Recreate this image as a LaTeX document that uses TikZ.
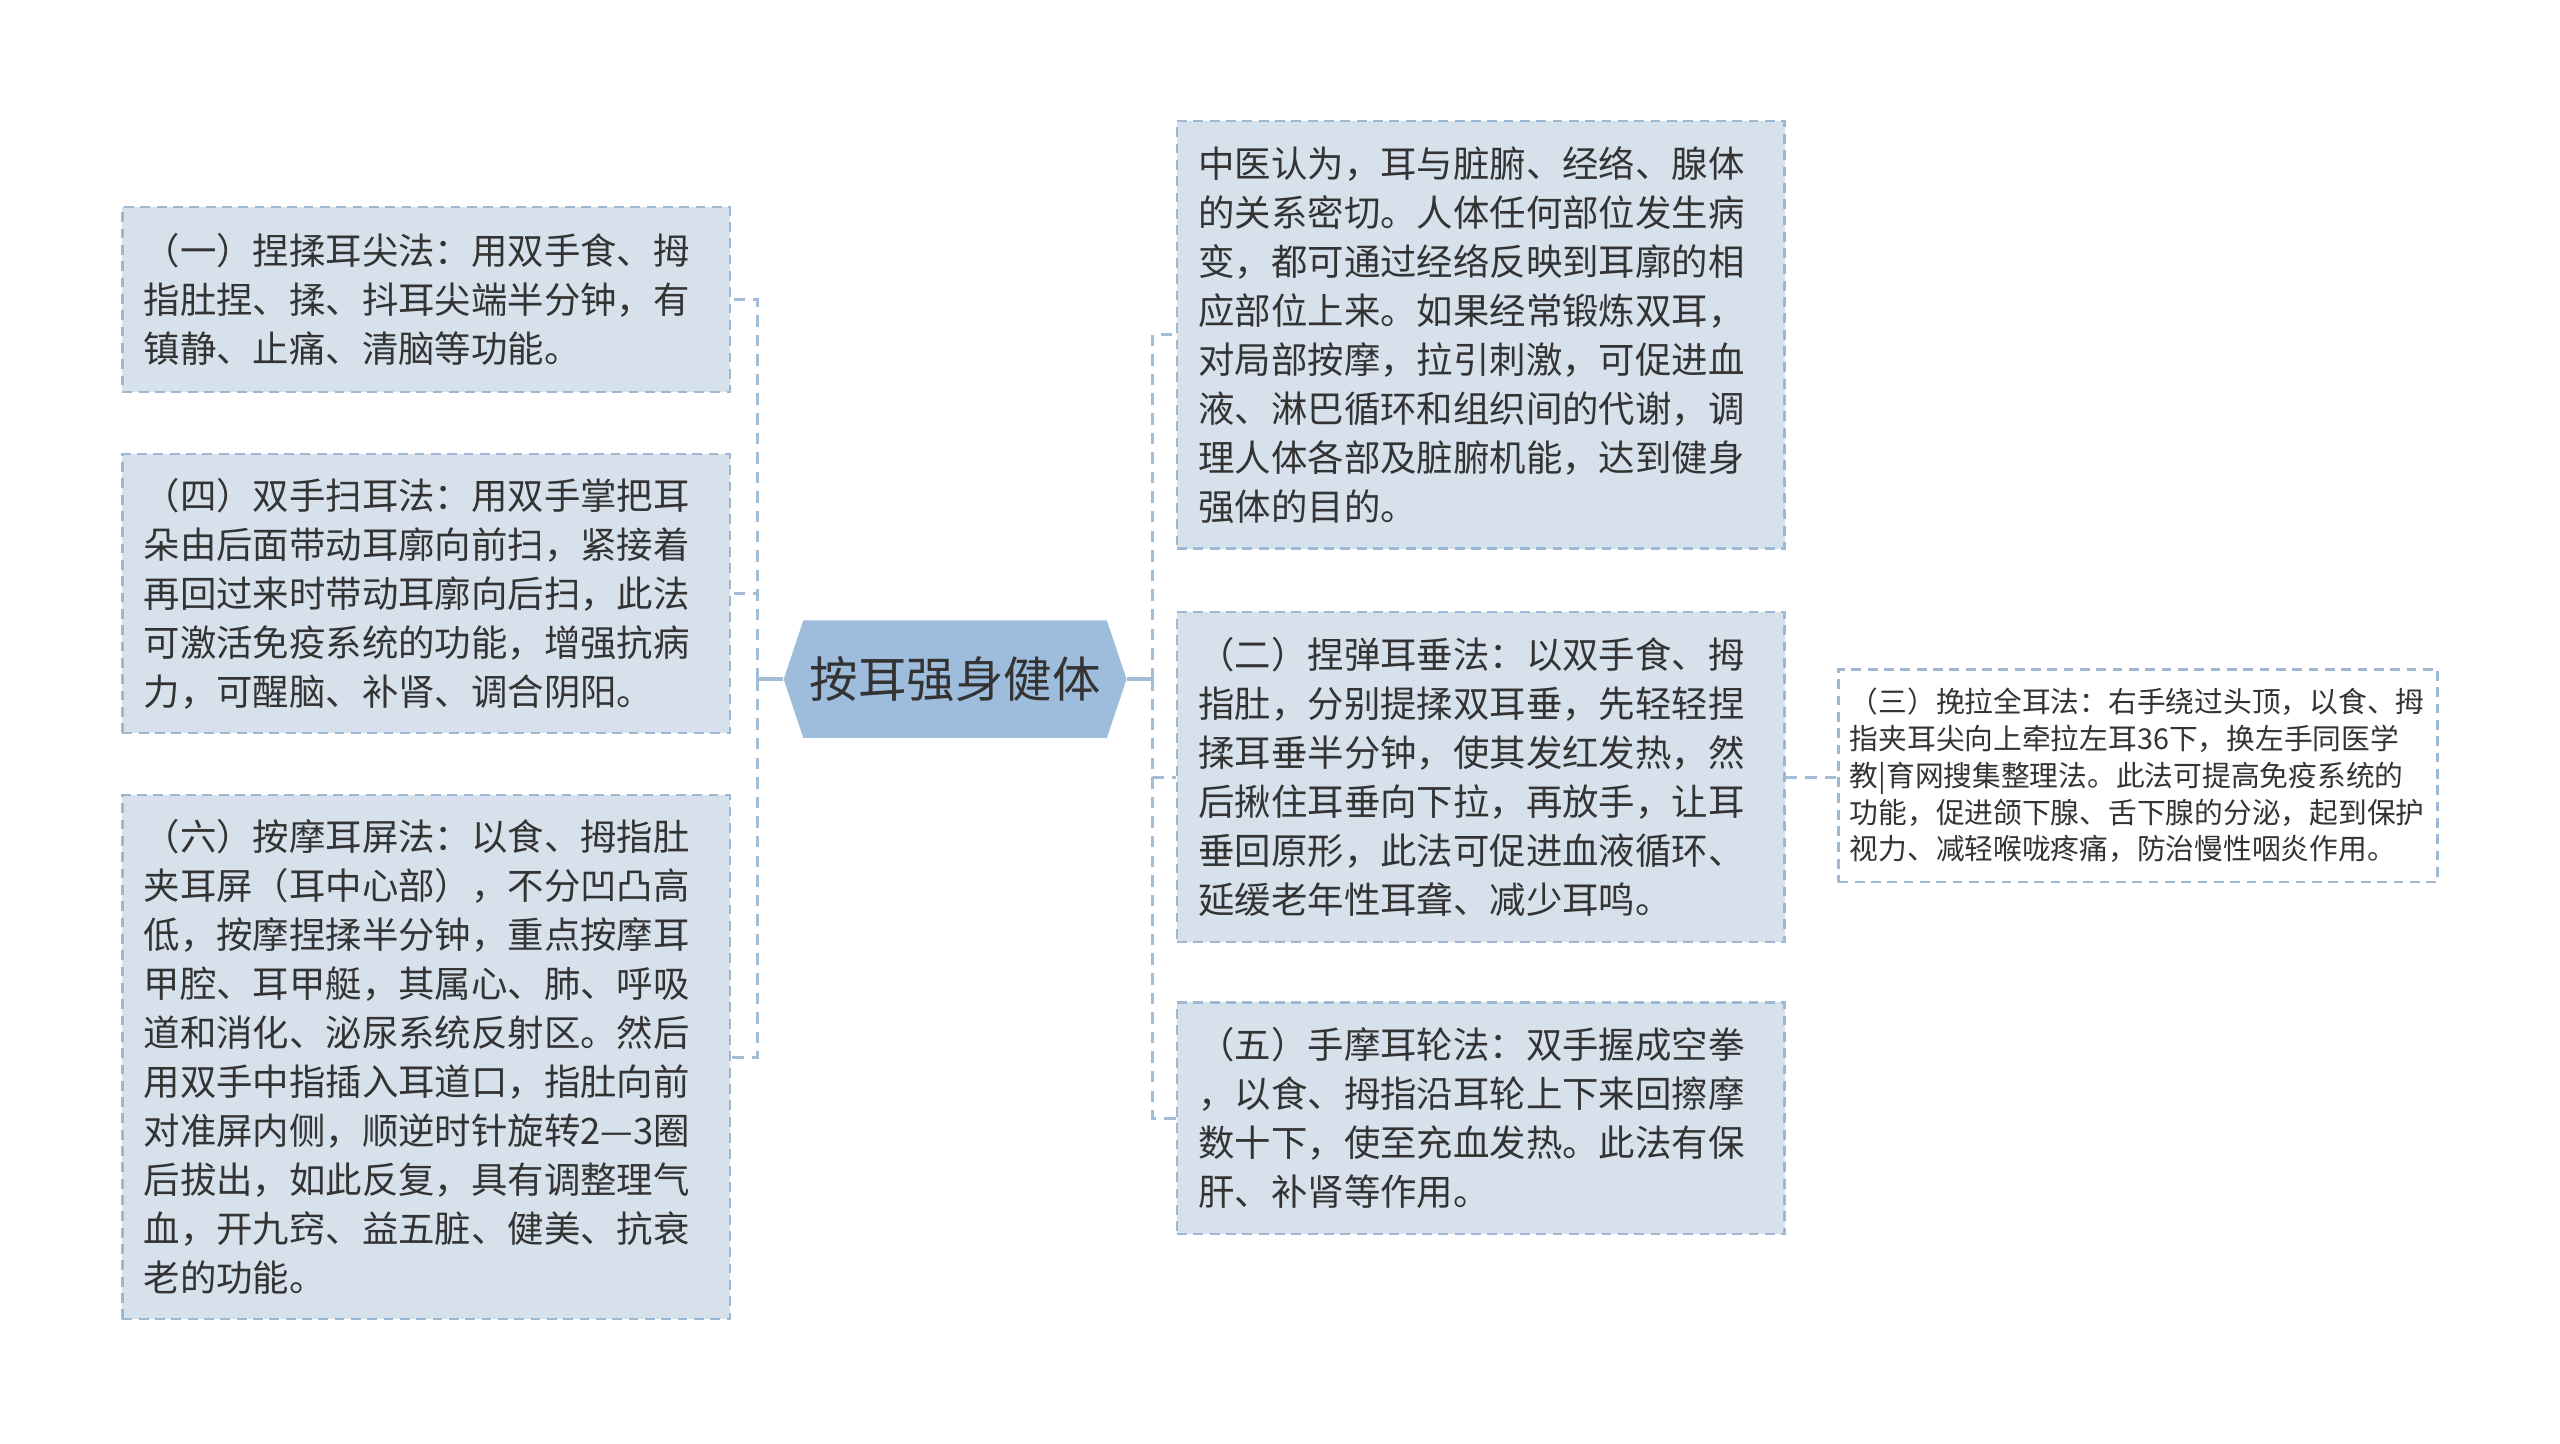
\documentclass[tikz,border=0pt]{standalone}
\usepackage{fontspec}
\setmainfont{Noto Sans CJK SC}
\usetikzlibrary{shapes.symbols}
\definecolor{boxfill}{HTML}{D6E1EB}
\definecolor{boxline}{HTML}{9DB8D2}
\definecolor{rootfill}{HTML}{9EBCDB}
\definecolor{linkcol}{HTML}{A3BDD6}
\definecolor{inkcol}{HTML}{333333}

\begin{document}
\begin{tikzpicture}[x=1pt,y=-1pt,
    box/.style={draw=boxline,fill=boxfill,line width=1.4pt,dash pattern=on 6pt off 4pt,
      text=inkcol,align=left,text width=346pt,inner xsep=13pt,inner ysep=0pt,
      minimum width=372pt,font=\fontsize{22.3}{30}\selectfont},
    smallbox/.style={box,fill=white,text width=353pt,inner xsep=7pt,
      minimum width=367pt,font=\fontsize{17.6}{22.5}\selectfont},
    root/.style={shape=signal,signal to=east and west,signal pointer angle=143,
      fill=rootfill,text=inkcol,minimum width=210pt,minimum height=72pt,inner sep=0pt,
      font=\fontsize{29.7}{32}\selectfont},
    link/.style={draw=linkcol,line width=2pt,dash pattern=on 7pt off 5pt},
    stem/.style={draw=linkcol,line width=2.4pt}]

  \useasboundingbox (0,0) rectangle (1568,884);

  % centre
  \node[root] (root) at (585,416) {按耳强身健体};

  % left side
  \node[box,minimum height=113pt] (yi) at (261,183.5) {（一）捏揉耳尖法：用双手食、拇\\指肚捏、揉、抖耳尖端半分钟，有\\镇静、止痛、清脑等功能。};
  \node[box,minimum height=171pt] (si) at (261,363.5) {（四）双手扫耳法：用双手掌把耳\\朵由后面带动耳廓向前扫，紧接着\\再回过来时带动耳廓向后扫，此法\\可激活免疫系统的功能，增强抗病\\力，可醒脑、补肾、调合阴阳。};
  \node[box,minimum height=321pt] (liu) at (261,647.5) {（六）按摩耳屏法：以食、拇指肚\\夹耳屏（耳中心部），不分凹凸高\\低，按摩捏揉半分钟，重点按摩耳\\甲腔、耳甲艇，其属心、肺、呼吸\\道和消化、泌尿系统反射区。然后\\用双手中指插入耳道口，指肚向前\\对准屏内侧，顺逆时针旋转2—3圈\\后拔出，如此反复，具有调整理气\\血，开九窍、益五脏、健美、抗衰\\老的功能。};

  % right side
  \node[box,minimum height=262pt] (zy) at (907,205) {中医认为，耳与脏腑、经络、腺体\\的关系密切。人体任何部位发生病\\变，都可通过经络反映到耳廓的相\\应部位上来。如果经常锻炼双耳，\\对局部按摩，拉引刺激，可促进血\\液、淋巴循环和组织间的代谢，调\\理人体各部及脏腑机能，达到健身\\强体的目的。};
  \node[box,minimum height=202pt] (er) at (907,476) {（二）捏弹耳垂法：以双手食、拇\\指肚，分别提揉双耳垂，先轻轻捏\\揉耳垂半分钟，使其发红发热，然\\后揪住耳垂向下拉，再放手，让耳\\垂回原形，此法可促进血液循环、\\延缓老年性耳聋、减少耳鸣。};
  \node[box,minimum height=142pt] (wu) at (907,685) {（五）手摩耳轮法：双手握成空拳\\，以食、拇指沿耳轮上下来回擦摩\\数十下，使至充血发热。此法有保\\肝、补肾等作用。};
  \node[smallbox,minimum height=130pt] (san) at (1309.5,475) {（三）挽拉全耳法：右手绕过头顶，以食、拇\\指夹耳尖向上牵拉左耳36下，换左手同医学\\教|育网搜集整理法。此法可提高免疫系统的\\功能，促进颌下腺、舌下腺的分泌，起到保护\\视力、减轻喉咙疼痛，防治慢性咽炎作用。};

  % connectors
  \coordinate (lj) at (464,416);
  \coordinate (rj) at (706,416);
  \draw[stem] (root.west) -- (lj);
  \draw[stem] (root.east) -- (rj);
  \draw[link] (lj) |- (yi.east);
  \draw[link] (lj) |- (si.east);
  \draw[link] (lj) |- (liu.east);
  \draw[link] (rj) |- (zy.west);
  \draw[link] (rj) |- (er.west);
  \draw[link] (rj) |- (wu.west);
  \draw[link] (er.east) -- (er.east -| san.west);

\end{tikzpicture}
\end{document}
